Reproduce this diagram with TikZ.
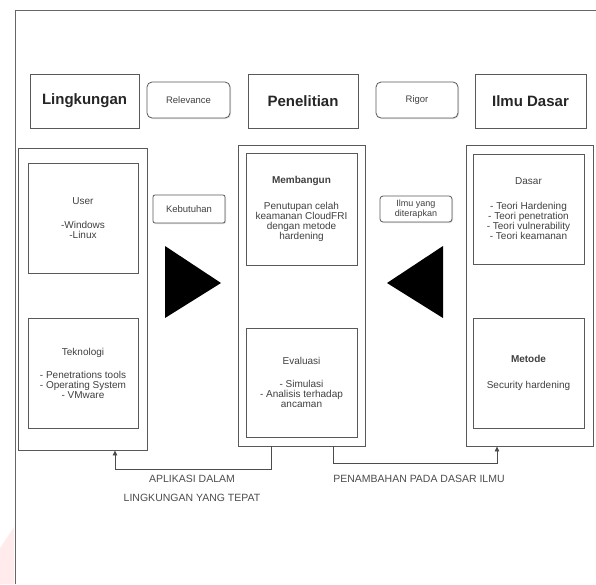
\documentclass[tikz,border=0pt]{standalone}
\usepackage{fontspec}
\setmainfont{Liberation Sans}
\usepackage{xcolor}
\usepackage{tikz}
\usetikzlibrary{arrows.meta, shadows}
\tikzset{
  head/.style={rectangle, draw=black!65, line width=0.9pt, fill=white,
               drop shadow={opacity=0.25, shadow xshift=1pt, shadow yshift=-1pt},
               font=\fontsize{15}{17}\selectfont\bfseries, text=black!85,
               minimum width=#1, minimum height=54pt, inner sep=1pt},
  head/.default=110pt,
  tag/.style={rectangle, rounded corners=#1, draw=black!65, line width=0.8pt, fill=white,
              drop shadow={opacity=0.25, shadow xshift=1pt, shadow yshift=-1pt},
              font=\fontsize{9.5}{9.5}\selectfont, text=black!75, align=center,
              inner sep=1pt},
  tag/.default=5pt,
  colbox/.style={rectangle, draw=black!65, line width=0.9pt, fill=white,
                 drop shadow={opacity=0.25, shadow xshift=1pt, shadow yshift=-1pt},
                 minimum width=#1, minimum height=301pt},
  colbox/.default=127pt,
  inbox/.style={rectangle, draw=black!65, line width=0.9pt, fill=white,
                drop shadow={opacity=0.25, shadow xshift=1pt, shadow yshift=-1pt},
                font=\fontsize{10}{10}\selectfont, text=black!75, align=center,
                minimum width=111pt, minimum height=#1, inner sep=2pt},
  inbox/.default=110pt,
  arr/.style={-{Triangle[length=5pt, width=4.5pt]}, line width=0.8pt, black!70},
  lbl/.style={font=\fontsize{10.5}{10.5}\selectfont, text=black!70, align=center},
}

\begin{document}
\begin{tikzpicture}[x=1pt, y=-1pt]
  \useasboundingbox (0,0) rectangle (596,584);
  %% frame and watermark
  \fill[red!8] (0,548) -- (14,527) -- (14,584) -- (0,584) -- cycle;
  \draw[black!60, line width=1pt] (596,10) -- (15,10) -- (15,584);
  %% top row
  \node[head=109pt] (ling) at (84.5,101)  {Lingkungan};
  \node[tag, minimum width=83pt, minimum height=36pt] (relv) at (188.5,100) {Relevance};
  \node[head]       (pene) at (303,101)   {Penelitian};
  \node[tag, minimum width=82pt, minimum height=36pt] (rigr) at (417,100)   {Rigor};
  \node[head=111pt] (ilmu) at (530.5,101) {Ilmu Dasar};
  %% columns
  \node[colbox=129pt, minimum height=302pt] (lcol) at (82.5,299) {};
  \node[colbox] (mcol) at (301.5,295.5) {};
  \node[colbox] (rcol) at (529.5,295.5) {};
  %% left column
  \node[inbox, minimum width=110pt] (user) at (83,218)
    {User\\[14pt]-Windows\\-Linux};
  \node[inbox, minimum width=110pt] (tekn) at (83,373)
    {Teknologi\\[13pt]- Penetrations tools\\- Operating System\\- VMware};
  %% middle column
  \node[inbox=112pt] (bang) at (301.5,209)
    {\textbf{Membangun}\\[16pt]Penutupan celah\\keamanan CloudFRI\\dengan metode\\hardening};
  \node[inbox=109pt] (eval) at (301.5,382.5)
    {Evaluasi\\[13pt]- Simulasi\\- Analisis terhadap\\ancaman};
  %% right column
  \node[inbox] (dasr) at (528.5,209)
    {Dasar\\[15pt]- Teori Hardening\\- Teori penetration\\- Teori vulnerability\\- Teori keamanan};
  \node[inbox] (metd) at (528.5,373)
    {\textbf{Metode}\\[16pt]Security hardening};
  %% between columns
  \node[tag=2pt, minimum width=72pt, minimum height=28pt] (butuh) at (189,209) {Kebutuhan};
  \node[tag=3pt, minimum width=72pt, minimum height=26pt, font=\fontsize{9}{9.5}\selectfont] (terap) at (416,209) {Ilmu yang\\diterapkan};
  \fill[black] (165,246) -- (221,283) -- (165,318) -- cycle;
  \fill[black] (443,246) -- (387,283) -- (443,318) -- cycle;
  %% feedback
  \draw[arr] ([xshift=-30.5pt]mcol.south) -- ++(0,23) -| ([xshift=32.5pt]lcol.south);
  \draw[arr] ([xshift=31.5pt]mcol.south) -- ++(0,17) -| ([xshift=-32.5pt]rcol.south);
  \node[lbl] (apl) at (192,488.5) {APLIKASI DALAM\\[8.5pt]LINGKUNGAN YANG TEPAT};
  \node[lbl] (tambah) at (419,479) {PENAMBAHAN PADA DASAR ILMU};
\end{tikzpicture}
\end{document}
